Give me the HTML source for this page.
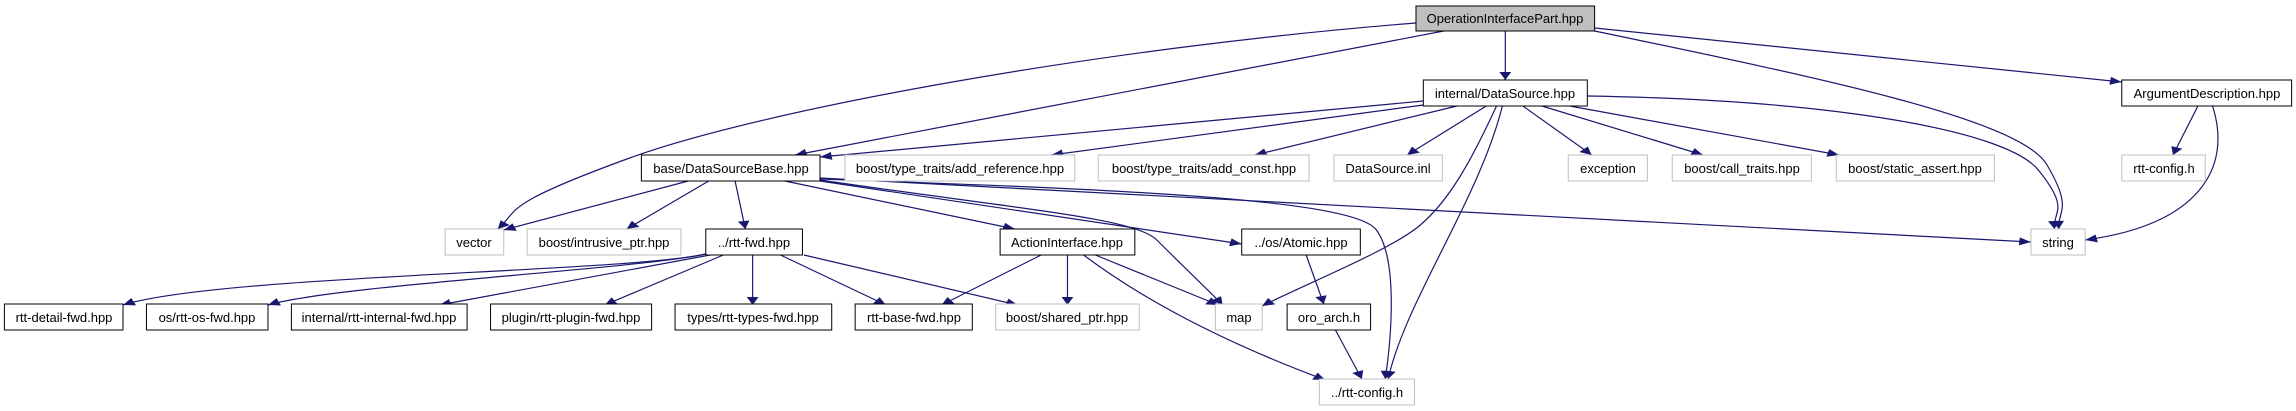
<!DOCTYPE html>
<html><head><meta charset="utf-8"><style>
html,body{margin:0;padding:0;background:#fff;}
svg{display:block;}
text{font-family:"Liberation Sans",Arial,sans-serif;font-size:13px;text-anchor:middle;fill:#000;}
</style></head><body>
<svg width="2296" height="411" viewBox="0 0 2296 411" xmlns="http://www.w3.org/2000/svg">
<defs>
<marker id="a" viewBox="0 0 10 10" refX="10" refY="5" markerWidth="10" markerHeight="8" markerUnits="userSpaceOnUse" orient="auto">
<path d="M0,0 L10,5 L0,10 z" fill="#191970"/>
</marker>
</defs>
<g transform="scale(1.4643,1)">
<g fill="none" stroke="#191970" stroke-width="1.2" vector-effect="non-scaling-stroke" marker-end="url(#a)">
<path vector-effect="non-scaling-stroke" d="M1028,31 L1028,80"/>
<path vector-effect="non-scaling-stroke" d="M967,23 C750,48 520,110 430,158 S355,210 340,229"/>
<path vector-effect="non-scaling-stroke" d="M986,31 L543,155"/>
<path vector-effect="non-scaling-stroke" d="M1089,31 C1250,80 1380,120 1398,165 S1405,210 1406,229"/>
<path vector-effect="non-scaling-stroke" d="M1089,28 L1449,82"/>
<path vector-effect="non-scaling-stroke" d="M972,101 L560,157"/>
<path vector-effect="non-scaling-stroke" d="M972,105 L718,155"/>
<path vector-effect="non-scaling-stroke" d="M995,106 L857,155"/>
<path vector-effect="non-scaling-stroke" d="M1015,106 L961,155"/>
<path vector-effect="non-scaling-stroke" d="M1040,106 L1087,155"/>
<path vector-effect="non-scaling-stroke" d="M1053,106 L1163,155"/>
<path vector-effect="non-scaling-stroke" d="M1072,106 L1256,155"/>
<path vector-effect="non-scaling-stroke" d="M1084,96 C1250,100 1370,130 1392,170 S1402,210 1403,229"/>
<path vector-effect="non-scaling-stroke" d="M1022,106 C1005,160 990,200 970,225 S890,285 862,306"/>
<path vector-effect="non-scaling-stroke" d="M1026,106 C1010,200 960,300 948,379"/>
<path vector-effect="non-scaling-stroke" d="M1501,106 L1484,155"/>
<path vector-effect="non-scaling-stroke" d="M1511,106 C1525,170 1500,225 1424,240"/>
<path vector-effect="non-scaling-stroke" d="M470,181 L344,230"/>
<path vector-effect="non-scaling-stroke" d="M484,181 L428,229"/>
<path vector-effect="non-scaling-stroke" d="M502,181 L509,229"/>
<path vector-effect="non-scaling-stroke" d="M536,181 L693,229"/>
<path vector-effect="non-scaling-stroke" d="M560,181 L848,244"/>
<path vector-effect="non-scaling-stroke" d="M560,178 L1387,242"/>
<path vector-effect="non-scaling-stroke" d="M560,180 C700,210 775,218 790,240 S825,290 835,305"/>
<path vector-effect="non-scaling-stroke" d="M560,179 C780,190 925,200 940,230 S950,340 946,379"/>
<path vector-effect="non-scaling-stroke" d="M482,254 C430,272 150,275 84,305"/>
<path vector-effect="non-scaling-stroke" d="M482,254 C430,270 230,285 183,305"/>
<path vector-effect="non-scaling-stroke" d="M485,255 L300,305"/>
<path vector-effect="non-scaling-stroke" d="M494,255 L413,305"/>
<path vector-effect="non-scaling-stroke" d="M514,255 L514,305"/>
<path vector-effect="non-scaling-stroke" d="M533,255 L605,305"/>
<path vector-effect="non-scaling-stroke" d="M549,255 L695,305"/>
<path vector-effect="non-scaling-stroke" d="M711,255 L643,305"/>
<path vector-effect="non-scaling-stroke" d="M729,255 L729,305"/>
<path vector-effect="non-scaling-stroke" d="M748,255 L832,305"/>
<path vector-effect="non-scaling-stroke" d="M740,255 C790,310 850,350 905,380"/>
<path vector-effect="non-scaling-stroke" d="M892,255 L904,304"/>
<path vector-effect="non-scaling-stroke" d="M912,330 L930,379"/>
</g>
<g stroke-width="1" vector-effect="non-scaling-stroke">
<rect vector-effect="non-scaling-stroke" x="967" y="6" width="122" height="25" fill="#bfbfbf" stroke="#000"/>
<rect vector-effect="non-scaling-stroke" x="972" y="80" width="112" height="26" fill="#fff" stroke="#000"/>
<rect vector-effect="non-scaling-stroke" x="1449" y="80" width="116" height="26" fill="#fff" stroke="#000"/>
<rect vector-effect="non-scaling-stroke" x="438" y="155" width="122" height="26" fill="#fff" stroke="#000"/>
<rect vector-effect="non-scaling-stroke" x="577" y="155" width="157" height="26" fill="#fff" stroke="#bfbfbf"/>
<rect vector-effect="non-scaling-stroke" x="750" y="155" width="144" height="26" fill="#fff" stroke="#bfbfbf"/>
<rect vector-effect="non-scaling-stroke" x="911" y="155" width="74" height="26" fill="#fff" stroke="#bfbfbf"/>
<rect vector-effect="non-scaling-stroke" x="1071" y="155" width="54" height="26" fill="#fff" stroke="#bfbfbf"/>
<rect vector-effect="non-scaling-stroke" x="1142" y="155" width="95" height="26" fill="#fff" stroke="#bfbfbf"/>
<rect vector-effect="non-scaling-stroke" x="1254" y="155" width="108" height="26" fill="#fff" stroke="#bfbfbf"/>
<rect vector-effect="non-scaling-stroke" x="1449" y="155" width="57" height="26" fill="#fff" stroke="#bfbfbf"/>
<rect vector-effect="non-scaling-stroke" x="304" y="229" width="40" height="26" fill="#fff" stroke="#bfbfbf"/>
<rect vector-effect="non-scaling-stroke" x="360" y="229" width="105" height="26" fill="#fff" stroke="#bfbfbf"/>
<rect vector-effect="non-scaling-stroke" x="482" y="229" width="66" height="26" fill="#fff" stroke="#000"/>
<rect vector-effect="non-scaling-stroke" x="683" y="229" width="92" height="26" fill="#fff" stroke="#000"/>
<rect vector-effect="non-scaling-stroke" x="848" y="229" width="81" height="26" fill="#fff" stroke="#000"/>
<rect vector-effect="non-scaling-stroke" x="1387" y="229" width="37" height="26" fill="#fff" stroke="#bfbfbf"/>
<rect vector-effect="non-scaling-stroke" x="3" y="304" width="81" height="26" fill="#fff" stroke="#000"/>
<rect vector-effect="non-scaling-stroke" x="100" y="304" width="83" height="26" fill="#fff" stroke="#000"/>
<rect vector-effect="non-scaling-stroke" x="199" y="304" width="120" height="26" fill="#fff" stroke="#000"/>
<rect vector-effect="non-scaling-stroke" x="335" y="304" width="110" height="26" fill="#fff" stroke="#000"/>
<rect vector-effect="non-scaling-stroke" x="461" y="304" width="107" height="26" fill="#fff" stroke="#000"/>
<rect vector-effect="non-scaling-stroke" x="584" y="304" width="80" height="26" fill="#fff" stroke="#000"/>
<rect vector-effect="non-scaling-stroke" x="680" y="304" width="98" height="26" fill="#fff" stroke="#bfbfbf"/>
<rect vector-effect="non-scaling-stroke" x="830" y="304" width="32" height="26" fill="#fff" stroke="#bfbfbf"/>
<rect vector-effect="non-scaling-stroke" x="879" y="304" width="57" height="26" fill="#fff" stroke="#000"/>
<rect vector-effect="non-scaling-stroke" x="901" y="379" width="65" height="26" fill="#fff" stroke="#bfbfbf"/>
</g>
</g>
<text x="1505" y="23">OperationInterfacePart.hpp</text>
<text x="1505" y="98">internal/DataSource.hpp</text>
<text x="2207" y="98">ArgumentDescription.hpp</text>
<text x="731" y="173">base/DataSourceBase.hpp</text>
<text x="960" y="173">boost/type_traits/add_reference.hpp</text>
<text x="1204" y="173">boost/type_traits/add_const.hpp</text>
<text x="1388" y="173">DataSource.inl</text>
<text x="1608" y="173">exception</text>
<text x="1742" y="173">boost/call_traits.hpp</text>
<text x="1915" y="173">boost/static_assert.hpp</text>
<text x="2164" y="173">rtt-config.h</text>
<text x="474" y="247">vector</text>
<text x="604" y="247">boost/intrusive_ptr.hpp</text>
<text x="754" y="247">../rtt-fwd.hpp</text>
<text x="1067" y="247">ActionInterface.hpp</text>
<text x="1301" y="247">../os/Atomic.hpp</text>
<text x="2058" y="247">string</text>
<text x="64" y="322">rtt-detail-fwd.hpp</text>
<text x="207" y="322">os/rtt-os-fwd.hpp</text>
<text x="379" y="322">internal/rtt-internal-fwd.hpp</text>
<text x="571" y="322">plugin/rtt-plugin-fwd.hpp</text>
<text x="753" y="322">types/rtt-types-fwd.hpp</text>
<text x="914" y="322">rtt-base-fwd.hpp</text>
<text x="1067" y="322">boost/shared_ptr.hpp</text>
<text x="1239" y="322">map</text>
<text x="1329" y="322">oro_arch.h</text>
<text x="1367" y="397">../rtt-config.h</text>
</svg>
</body></html>
